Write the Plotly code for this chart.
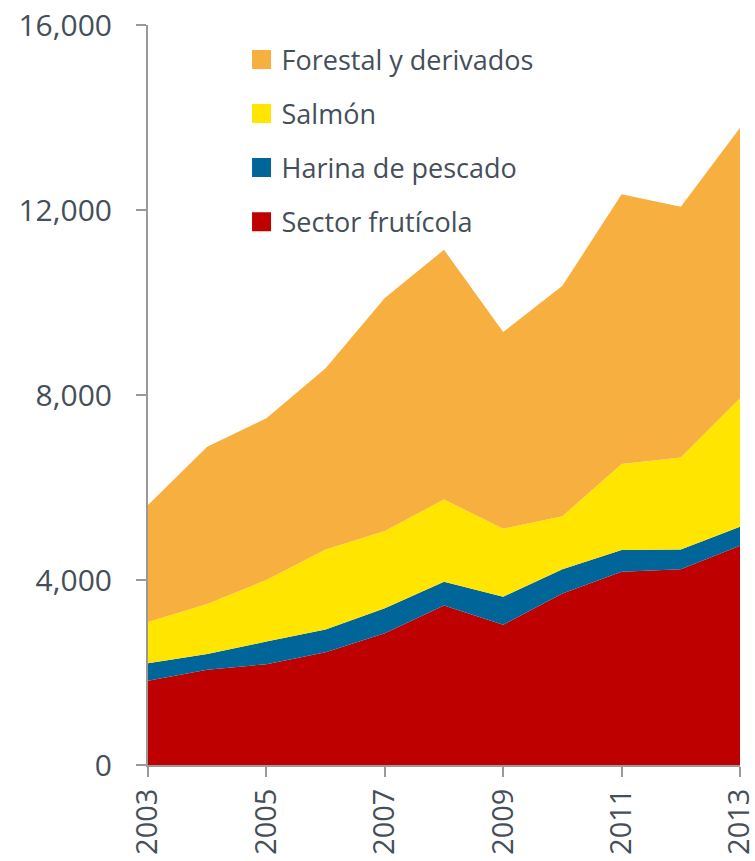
import plotly.graph_objects as go

years = [2003, 2004, 2005, 2006, 2007, 2008, 2009, 2010, 2011, 2012, 2013]
sector_fruticola = [1820, 2060, 2180, 2440, 2850, 3450, 3030, 3710, 4180, 4230, 4740]
harina_pescado = [380, 340, 490, 490, 540, 510, 610, 520, 470, 430, 410]
salmon = [890, 1080, 1330, 1730, 1670, 1780, 1470, 1150, 1860, 1990, 2780]
forestal = [2530, 3400, 3500, 3920, 5040, 5400, 4250, 4980, 5830, 5420, 5850]

y_ticks = [0, 4000, 8000, 12000, 16000]
x_ticks = [2003, 2005, 2007, 2009, 2011, 2013]

series = [
    ("Sector frutícola", sector_fruticola, "#BE0000"),
    ("Harina de pescado", harina_pescado, "#006699"),
    ("Salmón", salmon, "#FFE500"),
    ("Forestal y derivados", forestal, "#F7B040"),
]

fig = go.Figure()
for name, vals, col in series:
    fig.add_trace(go.Scatter(
        x=years, y=vals, name=name, stackgroup="one", mode="lines",
        line=dict(width=0, color=col), fillcolor=col, showlegend=False,
        hoverinfo="x+y+name",
    ))

for i, (name, vals, col) in enumerate(reversed(series)):
    fig.add_trace(go.Scatter(
        x=[None], y=[None], name=name, mode="markers",
        marker=dict(symbol="square", size=16, color=col, line=dict(color=col, width=3)),
        legendgroup=f"g{i}", showlegend=True,
    ))

font_color = "#454F5A"
fig.update_layout(
    width=755, height=861,
    margin=dict(l=148, r=15, t=25, b=96),
    paper_bgcolor="white", plot_bgcolor="white",
    font=dict(family="Open Sans, Noto Sans, sans-serif", size=27, color=font_color),
    showlegend=True,
    legend=dict(
        x=0.158, y=0.986, xanchor="left", yanchor="top",
        font=dict(size=27, color=font_color),
        bgcolor="rgba(0,0,0,0)", tracegroupgap=16, traceorder="grouped",
    ),
    xaxis=dict(
        range=[2003, 2013], tickvals=x_ticks, ticktext=[str(v) for v in x_ticks],
        tickangle=-90, showgrid=False, zeroline=False, automargin=False,
        showline=True, linecolor="#999999", linewidth=2,
        ticks="outside", ticklen=10, tickcolor="#999999", tickwidth=2,
        tickfont=dict(size=29, color=font_color), ticklabelstandoff=0,
        ticklabeloverflow="allow",
    ),
    yaxis=dict(
        range=[0, 16000], tickvals=y_ticks, tickformat=",d",
        showgrid=False, zeroline=False, automargin=False,
        showline=True, linecolor="#999999", linewidth=2,
        ticks="outside", ticklen=10, tickcolor="#999999", tickwidth=2,
        tickfont=dict(size=30, color=font_color), ticklabelstandoff=18,
        ticklabeloverflow="allow",
    ),
)

fig.write_html("out.html", config={"displayModeBar": False},
               post_script="document.body.style.margin='0';")
